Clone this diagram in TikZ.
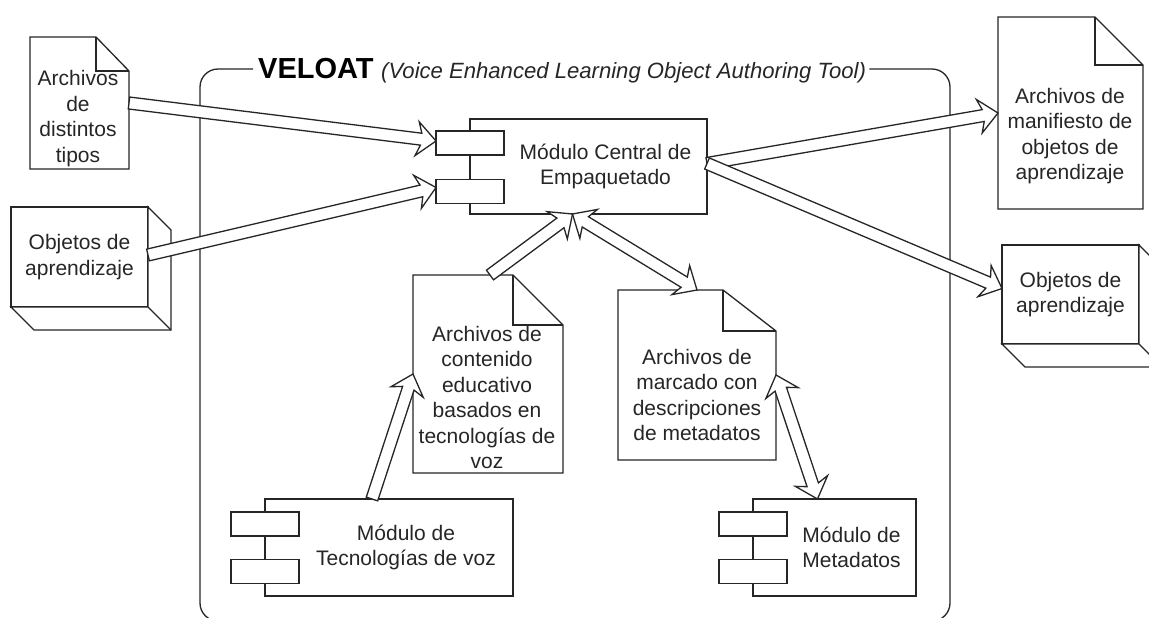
\documentclass[tikz,border=0pt]{standalone}
\usepackage{fontspec}
\setmainfont{Liberation Sans}
\usetikzlibrary{calc}

\tikzset{
  ln/.style={draw=black!85, line width=1.3pt},
  lbl/.style={text=black!85, font=\fontsize{21}{25.5}\selectfont, align=center, inner sep=0pt},
  frame/.style={inner sep=0pt, outer sep=0pt},
  modbox/.style={ln, fill=white, inner sep=0pt, outer sep=0pt},
  port/.style={ln, fill=white, minimum width=68pt, minimum height=24pt, inner sep=0pt, outer sep=0pt},
  cubeface/.style={ln, fill=white, lbl, outer sep=0pt},
  fat/.style={ln, fill=white, line join=miter}
}

% document page with a folded corner: #1 node name, #2 fold width, #3 fold height
\newcommand\docpage[3]{%
  \draw[ln, fill=white] (#1.north west) -- ([xshift=-#2]#1.north east)
    -- ([yshift=-#3]#1.north east) -- (#1.south east) -- (#1.south west) -- cycle;
  \draw[ln] ([xshift=-#2]#1.north east) |- ([yshift=-#3]#1.north east);
}

% extruded (3D) node: sides below and to the right of the front face
\newcommand\nodeextrude[2]{%
  \draw[ln, fill=white] (#1.north east) -- ([shift={(#2,#2)}]#1.north east)
    -- ([shift={(#2,#2)}]#1.south east) -- ([shift={(#2,#2)}]#1.south west)
    -- (#1.south west) -- (#1.south east) -- cycle;
  \draw[ln] (#1.south east) -- ([shift={(#2,#2)}]#1.south east);
}

% hollow block arrow with one head at the second end
\newcommand\singlearrow[2]{%
  \coordinate (fa-s) at (#1);
  \coordinate (fa-e) at (#2);
  \coordinate (fa-j) at ($(fa-e)!15pt!(fa-s)$);
  \coordinate (fa-k) at ($(fa-e)!19pt!(fa-s)$);
  \draw[fat]
    ($(fa-s)!6pt!90:(fa-e)$) -- ($(fa-j)!6pt!90:(fa-e)$) -- ($(fa-k)!17pt!90:(fa-e)$)
    -- (fa-e)
    -- ($(fa-k)!17pt!-90:(fa-e)$) -- ($(fa-j)!6pt!-90:(fa-e)$) -- ($(fa-s)!6pt!-90:(fa-e)$)
    -- cycle;
}

% hollow block arrow with heads at both ends
\newcommand\doublearrow[2]{%
  \coordinate (fa-s) at (#1);
  \coordinate (fa-e) at (#2);
  \coordinate (fa-j) at ($(fa-e)!15pt!(fa-s)$);
  \coordinate (fa-k) at ($(fa-e)!19pt!(fa-s)$);
  \coordinate (fa-jj) at ($(fa-s)!15pt!(fa-e)$);
  \coordinate (fa-kk) at ($(fa-s)!19pt!(fa-e)$);
  \draw[fat]
    (fa-s)
    -- ($(fa-kk)!17pt!90:(fa-e)$) -- ($(fa-jj)!6pt!90:(fa-e)$)
    -- ($(fa-j)!6pt!90:(fa-e)$) -- ($(fa-k)!17pt!90:(fa-e)$)
    -- (fa-e)
    -- ($(fa-k)!17pt!-90:(fa-e)$) -- ($(fa-j)!6pt!-90:(fa-e)$)
    -- ($(fa-jj)!6pt!-90:(fa-e)$) -- ($(fa-kk)!17pt!-90:(fa-e)$)
    -- cycle;
}

\begin{document}
\begin{tikzpicture}[x=1pt, y=-1pt]
\useasboundingbox[fill=white] (0,0) rectangle (1149,618);

% ---- system boundary with its title ----
\node[anchor=base west, inner sep=0pt, text=black,
      font=\bfseries\fontsize{29}{30}\selectfont] (ttl) at (258,79) {VELOAT};
\node[anchor=base west, inner sep=0pt, text=black!85,
      font=\itshape\fontsize{22.1}{24}\selectfont] (sub) at (381,79)
      {(Voice Enhanced Learning Object Authoring Tool)};
\coordinate (cL) at (200,621);
\coordinate (cR) at (950,621);
\draw[ln, rounded corners=18pt]
  ([xshift=-5pt]ttl.west) -- (cL |- ttl.west) -- (cL) -- (cR)
  -- (cR |- ttl.west) -- ($(sub.east |- ttl.west)+(3,0)$);

% ---- documents ----
\node[frame, minimum width=99pt, minimum height=132pt] (d1) at (79.5,103) {};
\docpage{d1}{33pt}{34pt}
\node[lbl] (d1t) at (78,118.5) {Archivos\\de\\distintos\\tipos};

\node[frame, minimum width=145pt, minimum height=192pt] (dR) at (1070.5,113) {};
\docpage{dR}{48pt}{48pt}
\node[lbl] (dRt) at (1070,136) {Archivos de\\manifiesto de\\objetos de\\aprendizaje};

\node[frame, minimum width=150pt, minimum height=198pt] (dC) at (488,374) {};
\docpage{dC}{50pt}{50pt}
\node[lbl] (dCt) at (487,397.5) {Archivos de\\contenido\\educativo\\basados en\\tecnologías de\\voz};

\node[frame, minimum width=158pt, minimum height=170pt] (dM) at (697,375) {};
\docpage{dM}{53pt}{41pt}
\node[lbl] (dMt) at (697,395) {Archivos de\\marcado con\\descripciones\\de metadatos};

% ---- learning object nodes ----
\node[cubeface, minimum width=137pt, minimum height=100pt] (objL) at (79.5,257) {Objetos de\\aprendizaje};
\nodeextrude{objL}{23}

\node[cubeface, minimum width=137pt, minimum height=99pt] (objR) at (1070.5,294.5) {Objetos de\\aprendizaje};
\nodeextrude{objR}{23}

% ---- components ----
\node[modbox, minimum width=237pt, minimum height=95pt] (cm) at (588.5,166.5) {};
\node[port] (cp1) at ([yshift=-24pt]cm.north west) {};
\node[port] (cp2) at ([yshift=-72.5pt]cm.north west) {};
\node[lbl] (cmt) at ($(cp1.east |- cm.center)!0.5!(cm.east)$) {Módulo Central de\\Empaquetado};

\node[modbox, minimum width=248pt, minimum height=97pt] (tm) at (389,547.5) {};
\node[port] (tp1) at ([yshift=-25pt]tm.north west) {};
\node[port] (tp2) at ([yshift=-72.5pt]tm.north west) {};
\node[lbl] (tmt) at ($(tp1.east |- tm.center)!0.5!(tm.east)$) {Módulo de\\Tecnologías de voz};

\node[modbox, minimum width=163pt, minimum height=97pt] (mm) at (834.5,547.5) {};
\node[port] (mp1) at ([yshift=-25pt]mm.north west) {};
\node[port] (mp2) at ([yshift=-72.5pt]mm.north west) {};
\node[lbl] (mmt) at ($(mp1.east |- mm.center)!0.5!(mm.east)$) {Módulo de\\Metadatos};

% ---- block arrows ----
\singlearrow{d1.east}{[yshift=2pt]cp1.west}
\singlearrow{[yshift=2pt]objL.east}{[yshift=4pt]cp2.west}
\singlearrow{[yshift=3pt]cm.east}{dR.west}
\singlearrow{[yshift=3pt]cm.east}{[yshift=6pt]objR.west}
\doublearrow{[xshift=-16pt]cm.south}{dM.north}
\singlearrow{[xshift=2pt]dC.north}{[xshift=-16pt]cm.south}
\singlearrow{[xshift=-17pt]tm.north}{dC.west}
\doublearrow{dM.east}{[xshift=-17pt]mm.north}

\end{tikzpicture}
\end{document}
